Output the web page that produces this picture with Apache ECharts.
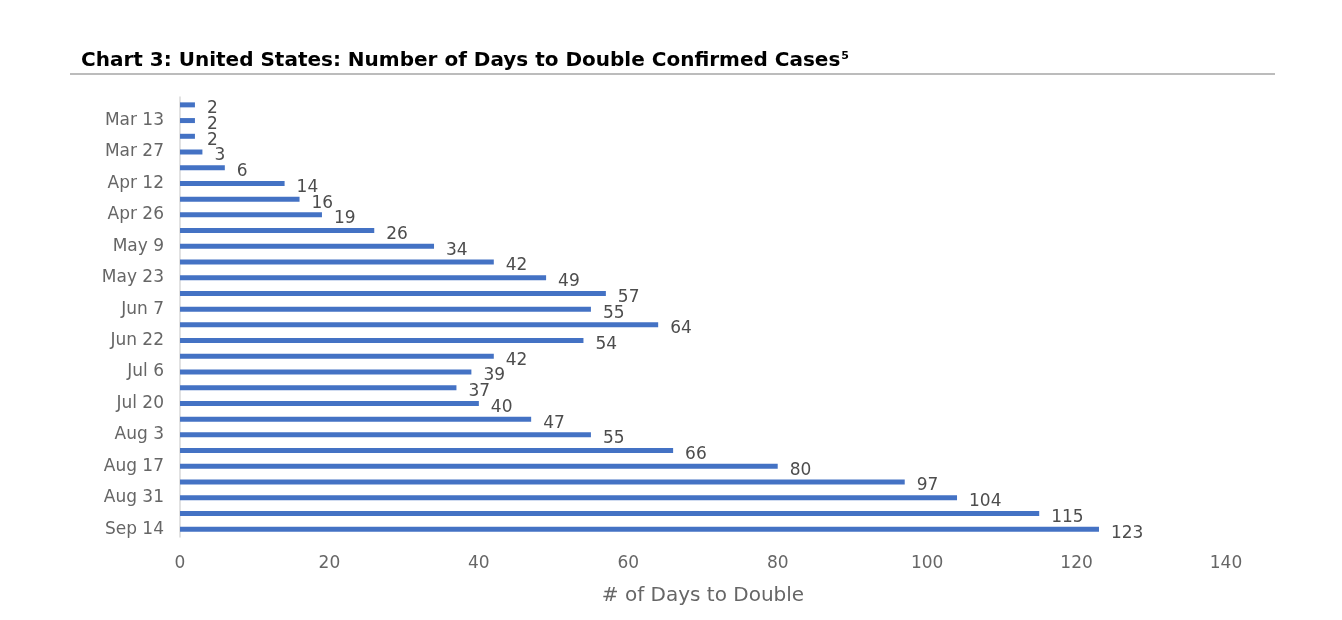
<!DOCTYPE html>
<html><head><meta charset="utf-8">
<script src="https://cdn.jsdelivr.net/npm/echarts@6/dist/echarts.min.js"></script>
<style>html,body{margin:0;padding:0;background:#fff}#c{width:1342px;height:620px}</style>
</head><body><div id="c"></div>
<script>
const categories = ["Mar 6","Mar 13","Mar 20","Mar 27","Apr 4","Apr 12","Apr 19","Apr 26","May 2","May 9","May 16","May 23","May 31","Jun 7","Jun 15","Jun 22","Jun 29","Jul 6","Jul 13","Jul 20","Jul 27","Aug 3","Aug 10","Aug 17","Aug 24","Aug 31","Sep 7","Sep 14"];
const daysToDouble = [2,2,2,3,6,14,16,19,26,34,42,49,57,55,64,54,42,39,37,40,47,55,66,80,97,104,115,123];
const xTicks = [0,20,40,60,80,100,120,140];
const titleText = "Chart 3: United States: Number of Days to Double Confirmed Cases";
const xAxisName = "# of Days to Double";

const FONT = "'DejaVu Sans', sans-serif";
const chart = echarts.init(document.getElementById('c'));
chart.setOption({
  animation: false,
  title: {
    text: '{t|' + titleText + '}{s|5}',
    left: 76, top: 46,
    textStyle: {
      rich: {
        t: {fontFamily: FONT, fontWeight: 'bold', fontSize: 20, color: '#000'},
        s: {fontFamily: FONT, fontWeight: 'bold', fontSize: 11, color: '#000', verticalAlign: 'top', padding: [0,0,9,1]}
      }
    }
  },
  graphic: [{
    type: 'line', shape: {x1: 70, y1: 74, x2: 1275, y2: 74},
    style: {stroke: '#a6a6a6', lineWidth: 1.5}
  }],
  grid: {left: 180, right: 116, top: 97, bottom: 83},
  xAxis: {
    type: 'value', min: 0, max: 140, interval: 20,
    name: xAxisName, nameLocation: 'middle', nameGap: 49,
    nameTextStyle: {fontFamily: FONT, fontSize: 20, color: '#666666'},
    axisLine: {show: false}, axisTick: {show: false}, splitLine: {show: false},
    axisLabel: {fontFamily: FONT, fontSize: 17, color: '#666666', margin: 18,
      formatter: v => xTicks.includes(v) ? String(v) : ''}
  },
  yAxis: {
    type: 'category', data: categories, inverse: true,
    axisLine: {show: true, lineStyle: {color: '#d9d9d9', width: 1.5}},
    axisTick: {show: false},
    axisLabel: {fontFamily: FONT, fontSize: 17, color: '#666666', margin: 16,
      interval: (idx) => idx % 2 === 1}
  },
  series: [{
    type: 'bar', data: daysToDouble, barWidth: 5,
    itemStyle: {color: '#4472C4'},
    label: {show: true, position: 'right', distance: 12, offset: [0, 4],
      fontFamily: FONT, fontSize: 17, color: '#4d4d4d'}
  }]
});
</script></body></html>
